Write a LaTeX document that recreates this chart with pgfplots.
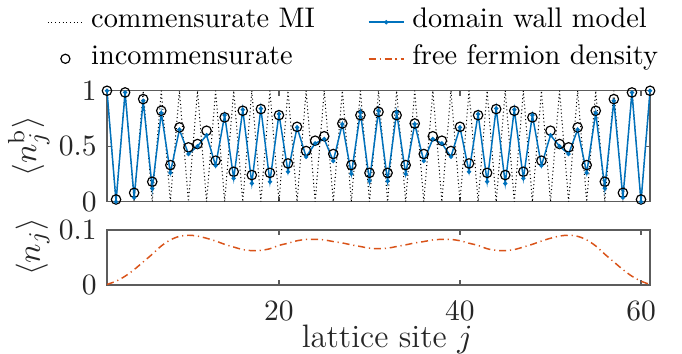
\documentclass[border=0pt]{standalone}
\usepackage{pgfplots}
\usepackage{pgfplotstable}
\pgfplotsset{compat=1.18}
\usetikzlibrary{calc}
\definecolor{mblue}{rgb}{0,0.447,0.741}
\definecolor{morange}{rgb}{0.85,0.325,0.098}
\definecolor{axgray}{rgb}{0.15,0.15,0.15}

\pgfplotstableread{
j c inc dw ff
1 1 1.000 1.000 0.001
2 0 0.020 0.000 0.007
3 1 0.985 0.985 0.016
4 0 0.080 0.036 0.028
5 1 0.925 0.910 0.042
6 0 0.180 0.120 0.056
7 1 0.820 0.800 0.071
8 0 0.330 0.260 0.082
9 1 0.670 0.650 0.0885
10 0 0.490 0.430 0.0905
11 1 0.520 0.500 0.089
12 0 0.640 0.600 0.085
13 1 0.370 0.325 0.080
14 0 0.760 0.780 0.074
15 1 0.270 0.210 0.069
16 0 0.820 0.830 0.0645
17 1 0.240 0.165 0.0625
18 0 0.835 0.840 0.063
19 1 0.260 0.180 0.066
20 0 0.780 0.790 0.072
21 1 0.345 0.270 0.076
22 0 0.675 0.670 0.0805
23 1 0.457 0.405 0.0828
24 0 0.550 0.526 0.083
25 1 0.590 0.565 0.082
26 0 0.430 0.367 0.079
27 1 0.705 0.700 0.0765
28 0 0.330 0.250 0.073
29 1 0.780 0.805 0.070
30 0 0.260 0.186 0.067
31 1 0.810 0.820 0.066
32 0 0.260 0.186 0.067
33 1 0.780 0.805 0.070
34 0 0.330 0.250 0.073
35 1 0.705 0.700 0.0765
36 0 0.430 0.367 0.079
37 1 0.590 0.565 0.082
38 0 0.550 0.526 0.083
39 1 0.457 0.405 0.0828
40 0 0.675 0.670 0.0805
41 1 0.345 0.270 0.076
42 0 0.780 0.790 0.072
43 1 0.260 0.180 0.066
44 0 0.835 0.840 0.063
45 1 0.240 0.165 0.0625
46 0 0.820 0.830 0.0645
47 1 0.270 0.210 0.069
48 0 0.760 0.780 0.074
49 1 0.370 0.325 0.080
50 0 0.640 0.600 0.085
51 1 0.520 0.500 0.089
52 0 0.490 0.430 0.0905
53 1 0.670 0.650 0.0885
54 0 0.330 0.260 0.082
55 1 0.820 0.800 0.071
56 0 0.180 0.120 0.056
57 1 0.925 0.910 0.042
58 0 0.080 0.036 0.028
59 1 0.985 0.985 0.016
60 0 0.020 0.000 0.007
61 1 1.000 1.000 0.001
}\sites

\pgfplotsset{
  myaxis/.style={
    scale only axis, width=184.1pt,
    xmin=1, xmax=61, xtick={20,40,60},
    tick align=inside, major tick length=1.7pt,
    axis line style={draw=axgray!75, line width=0.45pt},
    tick style={draw=axgray!75, line width=0.45pt},
    ticklabel style={text=axgray},
    label style={font=\fontsize{11}{13}\selectfont, text=axgray, inner sep=0pt},
    xticklabel style={yshift=-1.9pt},
  }
}

\begin{document}
\begin{tikzpicture}
\begin{axis}[myaxis, name=top,
  height=37.6pt, ymin=0, ymax=1, ytick={0,0.5,1},
  xticklabels={},
  ylabel={$\langle n_j^{\mathrm{b}}\rangle$},
  ylabel style={at={(rel axis cs:-0.105,0.5)}, anchor=south},
  legend columns=2, legend cell align=left,
  legend image code/.code={\draw[mark repeat=2,mark phase=2,#1] plot coordinates {(0cm,0cm) (0.21cm,0cm) (0.42cm,0cm)};},
  legend style={at={(rel axis cs:-0.110,1.783)}, anchor=north west,
    draw=none, fill=none, inner sep=0pt, outer sep=0pt,
    font=\fontsize{9.6}{11.5}\selectfont, text=black,
    nodes={inner sep=1pt, text height=7pt, text depth=3.4pt},
    /tikz/every odd column/.append style={column sep=1.6pt},
    /tikz/every even column/.append style={column sep=17pt}},
]
\addlegendimage{black, line width=0.35pt, dash pattern=on 0.35pt off 0.9pt}
\addlegendentry{commensurate MI}
\addlegendimage{mblue, line width=0.5pt, mark=*, mark size=0.45pt}
\addlegendentry{domain wall model}
\addlegendimage{only marks, mark=o, mark size=1.55pt, black, line width=0.4pt}
\addlegendentry{incommensurate}
\addlegendimage{morange, line width=0.5pt, dash pattern=on 2.4pt off 1.3pt on 0.4pt off 1.3pt}
\addlegendentry{free fermion density}

\addplot[black, line width=0.35pt, dash pattern=on 0.35pt off 0.9pt, forget plot] table[x=j, y=c] {\sites};
\addplot[only marks, mark=o, mark size=1.6pt, black, line width=0.4pt, forget plot] table[x=j, y=inc] {\sites};
\addplot[mblue, line width=0.5pt, mark=*, mark size=0.45pt, forget plot] table[x=j, y=dw] {\sites};
\end{axis}

\begin{axis}[myaxis, name=bot,
  at={($(top.south west)+(0,-9.6pt)$)}, anchor=north west,
  height=18.64pt, ymin=0, ymax=0.1, ytick={0,0.1},
  ylabel={$\langle n_j\rangle$},
  ylabel style={at={(rel axis cs:-0.105,0.69)}, anchor=south},
  xlabel={lattice site $j$},
  xlabel style={at={(rel axis cs:0.516,-0.72)}, anchor=north},
]
\addplot[morange, line width=0.5pt, dash pattern=on 2.4pt off 1.3pt on 0.4pt off 1.3pt, smooth] table[x=j, y=ff] {\sites};
\end{axis}

\path (top.south west) ++(-36.27pt,-51.29pt) rectangle ++(231.19pt,119.66pt);
\end{tikzpicture}
\end{document}
